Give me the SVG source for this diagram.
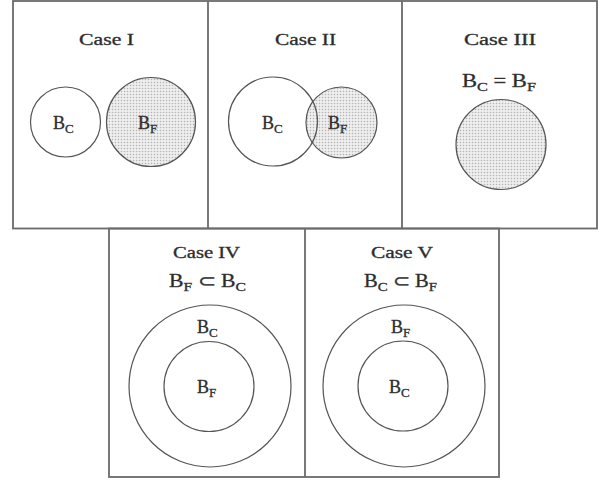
<svg xmlns="http://www.w3.org/2000/svg" width="603" height="482" viewBox="0 0 603 482">
<defs>
<pattern id="dots" width="3" height="3" patternUnits="userSpaceOnUse">
<rect width="3" height="3" fill="#f3f3f3"/>
<rect x="0.75" y="0.75" width="1.5" height="1.5" fill="#b4b4b4"/>
</pattern>
</defs>
<style>
.frame{fill:none;stroke:#6a6a6a;stroke-width:1.8}
.c{fill:none;stroke:#555;stroke-width:1.2}
.s{fill:url(#dots);stroke:#555;stroke-width:1.2}
text{font-family:"Liberation Serif","Times New Roman",serif;fill:#2a2a2a;stroke:#3a3a3a;stroke-width:0.35}
.t{font-size:16px}
.b{font-size:18px}
.sub{font-size:13px}
</style>
<rect width="603" height="482" fill="#fff"/>
<g id="frames">
<rect class="frame" x="13" y="1" width="584" height="227.5"/>
<line class="frame" x1="208" y1="1" x2="208" y2="228.5"/>
<line class="frame" x1="402" y1="1" x2="402" y2="228.5"/>
<rect class="frame" x="109" y="228.5" width="390" height="248.5"/>
<line class="frame" x1="305" y1="228.5" x2="305" y2="477"/>
</g>
<g id="case1">
<text class="t" x="79" y="45" textLength="55" lengthAdjust="spacingAndGlyphs">Case I</text>
<circle class="c" cx="65.5" cy="122" r="35"/>
<circle class="s" cx="151" cy="122" r="44.5"/>
<text class="b" x="53" y="129">B<tspan class="sub" dy="4">C</tspan></text>
<text class="b" x="138" y="129">B<tspan class="sub" dy="4">F</tspan></text>
</g>
<g id="case2">
<text class="t" x="275" y="45" textLength="61" lengthAdjust="spacingAndGlyphs">Case II</text>
<circle class="s" cx="341.5" cy="122.5" r="35.5"/>
<circle class="c" cx="273" cy="121.5" r="44.5"/>
<text class="b" x="262" y="129">B<tspan class="sub" dy="4">C</tspan></text>
<text class="b" x="328" y="129">B<tspan class="sub" dy="4">F</tspan></text>
</g>
<g id="case3">
<text class="t" x="464" y="45" textLength="72" lengthAdjust="spacingAndGlyphs">Case III</text>
<text class="b" x="462" y="87" textLength="74" lengthAdjust="spacingAndGlyphs">B<tspan class="sub" dy="4">C</tspan><tspan dy="-4"> = B</tspan><tspan class="sub" dy="4">F</tspan></text>
<circle class="s" cx="501" cy="144.5" r="45"/>
</g>
<g id="case4">
<text class="t" x="173" y="258" textLength="67" lengthAdjust="spacingAndGlyphs">Case IV</text>
<text class="b" x="169" y="287" textLength="77" lengthAdjust="spacingAndGlyphs">B<tspan class="sub" dy="4">F</tspan><tspan dy="-4"> ⊂ B</tspan><tspan class="sub" dy="4">C</tspan></text>
<circle class="c" cx="210" cy="386" r="81"/>
<circle class="c" cx="209" cy="386.5" r="45"/>
<text class="b" x="197" y="333">B<tspan class="sub" dy="4">C</tspan></text>
<text class="b" x="197" y="393">B<tspan class="sub" dy="4">F</tspan></text>
</g>
<g id="case5">
<text class="t" x="371" y="258" textLength="62" lengthAdjust="spacingAndGlyphs">Case V</text>
<text class="b" x="364" y="287" textLength="73" lengthAdjust="spacingAndGlyphs">B<tspan class="sub" dy="4">C</tspan><tspan dy="-4"> ⊂ B</tspan><tspan class="sub" dy="4">F</tspan></text>
<circle class="c" cx="404" cy="386" r="81"/>
<circle class="c" cx="403" cy="386" r="45"/>
<text class="b" x="391" y="333">B<tspan class="sub" dy="4">F</tspan></text>
<text class="b" x="389" y="393">B<tspan class="sub" dy="4">C</tspan></text>
</g>
</svg>
